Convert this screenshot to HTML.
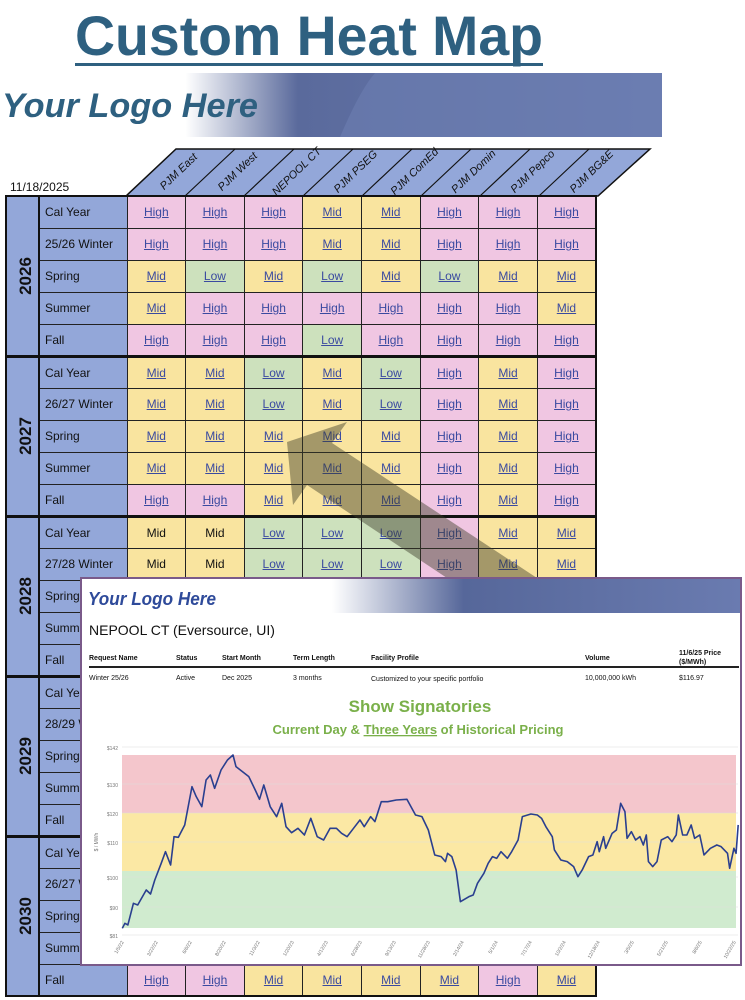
<!DOCTYPE html>
<html><head><meta charset="utf-8"><style>
*{margin:0;padding:0;box-sizing:border-box}
body{width:745px;height:1000px;position:relative;overflow:hidden;background:#fff;font-family:"Liberation Sans",sans-serif}
.abs{position:absolute}
table.hm{position:absolute;left:5px;top:195px;width:592px;border-collapse:collapse;table-layout:fixed;border:2px solid #111}
table.hm td{height:32px;border:1px solid #222;padding:0;font-size:12px;text-align:center;color:#3a4aa0;text-decoration:underline}
table.hm td.l{background:#93a7d9;color:#111;text-decoration:none;text-align:left;padding-left:5px;font-size:12px}
table.hm td.y{background:#93a7d9;color:#111;text-decoration:none;font-weight:bold;font-size:17px;border-right:2px solid #111}
table.hm td.y span{display:inline-block;transform:rotate(-90deg)}
.h{background:#f0c6e2}.m{background:#f9e49f}.w{background:#cde1bd}
tr.s td{border-top:3px solid #111}
.n{color:#111!important;text-decoration:none!important}
</style></head><body>

<svg class="abs" style="left:0;top:0" width="745" height="145">
<defs><linearGradient id="bg1" x1="0" x2="1"><stop offset="0" stop-color="#fff"/><stop offset="0.28" stop-color="#fff"/><stop offset="0.45" stop-color="#5a6a9c"/><stop offset="1" stop-color="#6a7bb0"/></linearGradient></defs>
<text x="75" y="55" font-size="56" font-weight="bold" fill="#2e6080" textLength="468" lengthAdjust="spacingAndGlyphs">Custom Heat Map</text>
<rect x="75" y="63" width="468" height="3" fill="#2e6080"/>
<rect x="0" y="73" width="662" height="64" fill="url(#bg1)"/>
<path d="M340 137 Q360 90 375 73 L662 73 L662 137Z" fill="#6d7eb2" opacity="0.6"/>
<text x="2" y="117" font-size="34" font-weight="bold" font-style="italic" fill="#2e6080" textLength="256" lengthAdjust="spacingAndGlyphs">Your Logo Here</text>
</svg>

<svg class="abs" style="left:0;top:140px" width="745" height="60">
<g transform="translate(0,-140)">
<polygon points="126,196 176,149 650,149 598,196" fill="#93a7d9" stroke="#111" stroke-width="1.5"/>
<g stroke="#111" stroke-width="1.2">
<line x1="185" y1="196" x2="235" y2="149"/><line x1="244" y1="196" x2="294" y2="149"/><line x1="303" y1="196" x2="353" y2="149"/><line x1="362" y1="196" x2="412" y2="149"/><line x1="421" y1="196" x2="471" y2="149"/><line x1="480" y1="196" x2="530" y2="149"/><line x1="539" y1="196" x2="589" y2="149"/>
</g>
<g font-size="11" font-style="italic" fill="#111" text-anchor="middle">
<text transform="translate(181,174) rotate(-44)">PJM East</text>
<text transform="translate(240,174) rotate(-44)">PJM    West</text>
<text transform="translate(299,174) rotate(-44)">NEPOOL   CT</text>
<text transform="translate(358,174) rotate(-44)">PJM    PSEG</text>
<text transform="translate(417,174) rotate(-44)">PJM   ComEd</text>
<text transform="translate(476,174) rotate(-44)">PJM    Domin</text>
<text transform="translate(535,174) rotate(-44)">PJM    Pepco</text>
<text transform="translate(594,174) rotate(-44)">PJM    BG&amp;E</text>
</g>
<text x="10" y="191" font-size="12" fill="#111">11/18/2025</text>
</g></svg>

<table class="hm">
<colgroup><col style="width:33px"><col style="width:88px"><col><col><col><col><col><col><col><col></colgroup>
<tr><td class="y" rowspan="5"><span>2026</span></td><td class="l">Cal Year</td><td class="h">High</td><td class="h">High</td><td class="h">High</td><td class="m">Mid</td><td class="m">Mid</td><td class="h">High</td><td class="h">High</td><td class="h">High</td></tr>
<tr><td class="l">25/26 Winter</td><td class="h">High</td><td class="h">High</td><td class="h">High</td><td class="m">Mid</td><td class="m">Mid</td><td class="h">High</td><td class="h">High</td><td class="h">High</td></tr>
<tr><td class="l">Spring</td><td class="m">Mid</td><td class="w">Low</td><td class="m">Mid</td><td class="w">Low</td><td class="m">Mid</td><td class="w">Low</td><td class="m">Mid</td><td class="m">Mid</td></tr>
<tr><td class="l">Summer</td><td class="m">Mid</td><td class="h">High</td><td class="h">High</td><td class="h">High</td><td class="h">High</td><td class="h">High</td><td class="h">High</td><td class="m">Mid</td></tr>
<tr><td class="l">Fall</td><td class="h">High</td><td class="h">High</td><td class="h">High</td><td class="w">Low</td><td class="h">High</td><td class="h">High</td><td class="h">High</td><td class="h">High</td></tr>
<tr class="s"><td class="y" rowspan="5"><span>2027</span></td><td class="l">Cal Year</td><td class="m">Mid</td><td class="m">Mid</td><td class="w">Low</td><td class="m">Mid</td><td class="w">Low</td><td class="h">High</td><td class="m">Mid</td><td class="h">High</td></tr>
<tr><td class="l">26/27 Winter</td><td class="m">Mid</td><td class="m">Mid</td><td class="w">Low</td><td class="m">Mid</td><td class="w">Low</td><td class="h">High</td><td class="m">Mid</td><td class="h">High</td></tr>
<tr><td class="l">Spring</td><td class="m">Mid</td><td class="m">Mid</td><td class="m">Mid</td><td class="m">Mid</td><td class="m">Mid</td><td class="h">High</td><td class="m">Mid</td><td class="h">High</td></tr>
<tr><td class="l">Summer</td><td class="m">Mid</td><td class="m">Mid</td><td class="m">Mid</td><td class="m">Mid</td><td class="m">Mid</td><td class="h">High</td><td class="m">Mid</td><td class="h">High</td></tr>
<tr><td class="l">Fall</td><td class="h">High</td><td class="h">High</td><td class="m">Mid</td><td class="m">Mid</td><td class="m">Mid</td><td class="h">High</td><td class="m">Mid</td><td class="h">High</td></tr>
<tr class="s"><td class="y" rowspan="5"><span>2028</span></td><td class="l">Cal Year</td><td class="m n">Mid</td><td class="m n">Mid</td><td class="w">Low</td><td class="w">Low</td><td class="w">Low</td><td class="h">High</td><td class="m">Mid</td><td class="m">Mid</td></tr>
<tr><td class="l">27/28 Winter</td><td class="m n">Mid</td><td class="m n">Mid</td><td class="w">Low</td><td class="w">Low</td><td class="w">Low</td><td class="h">High</td><td class="m">Mid</td><td class="m">Mid</td></tr>
<tr><td class="l">Spring</td><td class="m">Mid</td><td class="m">Mid</td><td class="m">Mid</td><td class="m">Mid</td><td class="m">Mid</td><td class="h">High</td><td class="m">Mid</td><td class="m">Mid</td></tr>
<tr><td class="l">Summer</td><td class="m">Mid</td><td class="m">Mid</td><td class="m">Mid</td><td class="m">Mid</td><td class="m">Mid</td><td class="h">High</td><td class="m">Mid</td><td class="m">Mid</td></tr>
<tr><td class="l">Fall</td><td class="m">Mid</td><td class="m">Mid</td><td class="m">Mid</td><td class="m">Mid</td><td class="m">Mid</td><td class="h">High</td><td class="m">Mid</td><td class="m">Mid</td></tr>
<tr class="s"><td class="y" rowspan="5"><span>2029</span></td><td class="l">Cal Year</td><td class="m">Mid</td><td class="m">Mid</td><td class="m">Mid</td><td class="m">Mid</td><td class="m">Mid</td><td class="h">High</td><td class="m">Mid</td><td class="m">Mid</td></tr>
<tr><td class="l">28/29 Winter</td><td class="m">Mid</td><td class="m">Mid</td><td class="m">Mid</td><td class="m">Mid</td><td class="m">Mid</td><td class="h">High</td><td class="m">Mid</td><td class="m">Mid</td></tr>
<tr><td class="l">Spring</td><td class="m">Mid</td><td class="m">Mid</td><td class="m">Mid</td><td class="m">Mid</td><td class="m">Mid</td><td class="h">High</td><td class="m">Mid</td><td class="m">Mid</td></tr>
<tr><td class="l">Summer</td><td class="m">Mid</td><td class="m">Mid</td><td class="m">Mid</td><td class="m">Mid</td><td class="m">Mid</td><td class="h">High</td><td class="m">Mid</td><td class="m">Mid</td></tr>
<tr><td class="l">Fall</td><td class="m">Mid</td><td class="m">Mid</td><td class="m">Mid</td><td class="m">Mid</td><td class="m">Mid</td><td class="h">High</td><td class="m">Mid</td><td class="m">Mid</td></tr>
<tr class="s"><td class="y" rowspan="5"><span>2030</span></td><td class="l">Cal Year</td><td class="m">Mid</td><td class="m">Mid</td><td class="m">Mid</td><td class="m">Mid</td><td class="m">Mid</td><td class="h">High</td><td class="m">Mid</td><td class="m">Mid</td></tr>
<tr><td class="l">26/27 Winter</td><td class="m">Mid</td><td class="m">Mid</td><td class="m">Mid</td><td class="m">Mid</td><td class="m">Mid</td><td class="h">High</td><td class="m">Mid</td><td class="m">Mid</td></tr>
<tr><td class="l">Spring</td><td class="m">Mid</td><td class="m">Mid</td><td class="m">Mid</td><td class="m">Mid</td><td class="m">Mid</td><td class="h">High</td><td class="m">Mid</td><td class="m">Mid</td></tr>
<tr><td class="l">Summer</td><td class="m">Mid</td><td class="m">Mid</td><td class="m">Mid</td><td class="m">Mid</td><td class="m">Mid</td><td class="h">High</td><td class="m">Mid</td><td class="m">Mid</td></tr>
<tr><td class="l">Fall</td><td class="h">High</td><td class="h">High</td><td class="m">Mid</td><td class="m">Mid</td><td class="m">Mid</td><td class="m">Mid</td><td class="h">High</td><td class="m">Mid</td></tr>
</table>

<svg class="abs" style="left:0;top:0" width="745" height="1000">
<polygon points="347,422 287,442 293,505 307,485 450,580 540,580 332,443" fill="rgba(60,60,40,0.45)"/>
</svg>

<div class="abs" style="left:80px;top:577px;width:662px;height:389px;background:#fff;border:2px solid #7a5a8a">
<svg width="658" height="385" style="position:absolute;left:0;top:0">
<defs><linearGradient id="bg2" x1="0" x2="1"><stop offset="0" stop-color="#fff"/><stop offset="0.38" stop-color="#fff"/><stop offset="0.58" stop-color="#56679a"/><stop offset="1" stop-color="#6a7bb0"/></linearGradient></defs>
<g transform="translate(-82,-579)">
<rect x="82" y="579" width="658" height="34" fill="url(#bg2)"/>
<text x="88" y="605" font-size="18" font-weight="bold" font-style="italic" fill="#2e4a9a" textLength="128" lengthAdjust="spacingAndGlyphs">Your Logo Here</text>
<text x="89" y="635" font-size="14" fill="#111">NEPOOL CT (Eversource, UI)</text>
<g font-size="7" font-weight="bold" fill="#111">
<text x="89" y="660">Request Name</text><text x="176" y="660">Status</text><text x="222" y="660">Start Month</text><text x="293" y="660">Term Length</text><text x="371" y="660">Facility Profile</text><text x="585" y="660">Volume</text><text x="679" y="655">11/6/25 Price</text><text x="679" y="664">($/MWh)</text>
</g>
<rect x="89" y="666" width="650" height="2" fill="#222"/>
<g font-size="7" fill="#111">
<text x="89" y="680">Winter 25/26</text><text x="176" y="680">Active</text><text x="222" y="680">Dec 2025</text><text x="293" y="680">3 months</text><text x="371" y="681">Customized to your specific portfolio</text><text x="585" y="680">10,000,000 kWh</text><text x="679" y="680">$116.97</text>
</g>
<text x="420" y="712" font-size="17" font-weight="bold" fill="#7ab04a" text-anchor="middle">Show Signatories</text>
<text x="418" y="734" font-size="13" font-weight="bold" fill="#7ab04a" text-anchor="middle">Current Day &amp; <tspan text-decoration="underline">Three Years</tspan> of Historical Pricing</text>
<rect x="122" y="755" width="614" height="58" fill="#f4c6cc"/>
<rect x="122" y="813" width="614" height="58" fill="#fbe8a4"/>
<rect x="122" y="871" width="614" height="57" fill="#d0ebcf"/>
<g stroke="#ddd" stroke-width="0.6"><line x1="122" y1="747" x2="738" y2="747"/><line x1="122" y1="784" x2="738" y2="784"/><line x1="122" y1="813" x2="738" y2="813"/><line x1="122" y1="842" x2="738" y2="842"/><line x1="122" y1="877" x2="738" y2="877"/><line x1="122" y1="907" x2="738" y2="907"/><line x1="122" y1="935" x2="738" y2="935"/></g>
<g font-size="5" fill="#777" text-anchor="end">
<text x="118" y="750">$142</text><text x="118" y="787">$130</text><text x="118" y="816">$120</text><text x="118" y="845">$110</text><text x="118" y="880">$100</text><text x="118" y="910">$90</text><text x="118" y="938">$81</text>
</g>
<text transform="translate(98,842) rotate(-90)" font-size="5" fill="#777" text-anchor="middle">$ / MWh</text>
<g transform="translate(80,740) scale(0.4274,0.3333)">
<polyline fill="none" stroke="#2a3f8f" stroke-width="1.6" vector-effect="non-scaling-stroke" stroke-linejoin="round" points="99,565 105,550 112,555 125,490 135,495 155,450 165,462 175,420 190,370 200,335 212,375 220,290 230,292 245,255 262,140 272,170 285,200 295,120 305,105 315,145 330,90 345,60 358,45 365,80 380,95 395,110 410,150 420,178 430,135 445,200 460,230 472,190 482,260 495,278 510,265 525,285 540,235 555,290 570,300 585,265 600,265 612,280 625,290 640,265 655,240 665,260 680,230 690,245 705,185 720,185 740,180 765,178 785,225 800,230 815,270 830,345 845,350 855,365 860,340 870,350 880,390 890,485 910,470 920,465 930,430 945,400 955,370 965,350 975,355 985,335 1000,355 1010,335 1025,300 1035,230 1055,222 1070,225 1080,235 1090,260 1105,290 1110,330 1125,360 1140,365 1155,380 1165,410 1175,390 1190,350 1200,345 1210,305 1215,335 1225,290 1230,325 1245,280 1255,270 1265,190 1275,215 1280,295 1290,275 1300,300 1310,290 1318,315 1325,285 1330,365 1340,380 1350,365 1360,300 1375,290 1385,305 1395,285 1400,225 1410,285 1420,285 1430,255 1438,295 1450,285 1460,345 1475,325 1490,315 1500,320 1515,340 1520,385 1530,325 1535,340 1540,255"/>
</g>
<g font-size="5" fill="#777" text-anchor="end">
<text transform="translate(124,942) rotate(-60)">1/5/22</text>
<text transform="translate(158,942) rotate(-60)">3/22/22</text>
<text transform="translate(192,942) rotate(-60)">6/6/22</text>
<text transform="translate(226,942) rotate(-60)">8/20/22</text>
<text transform="translate(260,942) rotate(-60)">11/3/22</text>
<text transform="translate(294,942) rotate(-60)">1/20/23</text>
<text transform="translate(328,942) rotate(-60)">4/12/23</text>
<text transform="translate(362,942) rotate(-60)">6/28/23</text>
<text transform="translate(396,942) rotate(-60)">9/13/23</text>
<text transform="translate(430,942) rotate(-60)">11/28/23</text>
<text transform="translate(464,942) rotate(-60)">2/14/24</text>
<text transform="translate(498,942) rotate(-60)">5/1/24</text>
<text transform="translate(532,942) rotate(-60)">7/17/24</text>
<text transform="translate(566,942) rotate(-60)">10/2/24</text>
<text transform="translate(600,942) rotate(-60)">12/18/24</text>
<text transform="translate(634,942) rotate(-60)">3/5/25</text>
<text transform="translate(668,942) rotate(-60)">5/21/25</text>
<text transform="translate(702,942) rotate(-60)">8/6/25</text>
<text transform="translate(736,942) rotate(-60)">10/22/25</text>
</g>
</g></svg>
</div>
</body></html>
